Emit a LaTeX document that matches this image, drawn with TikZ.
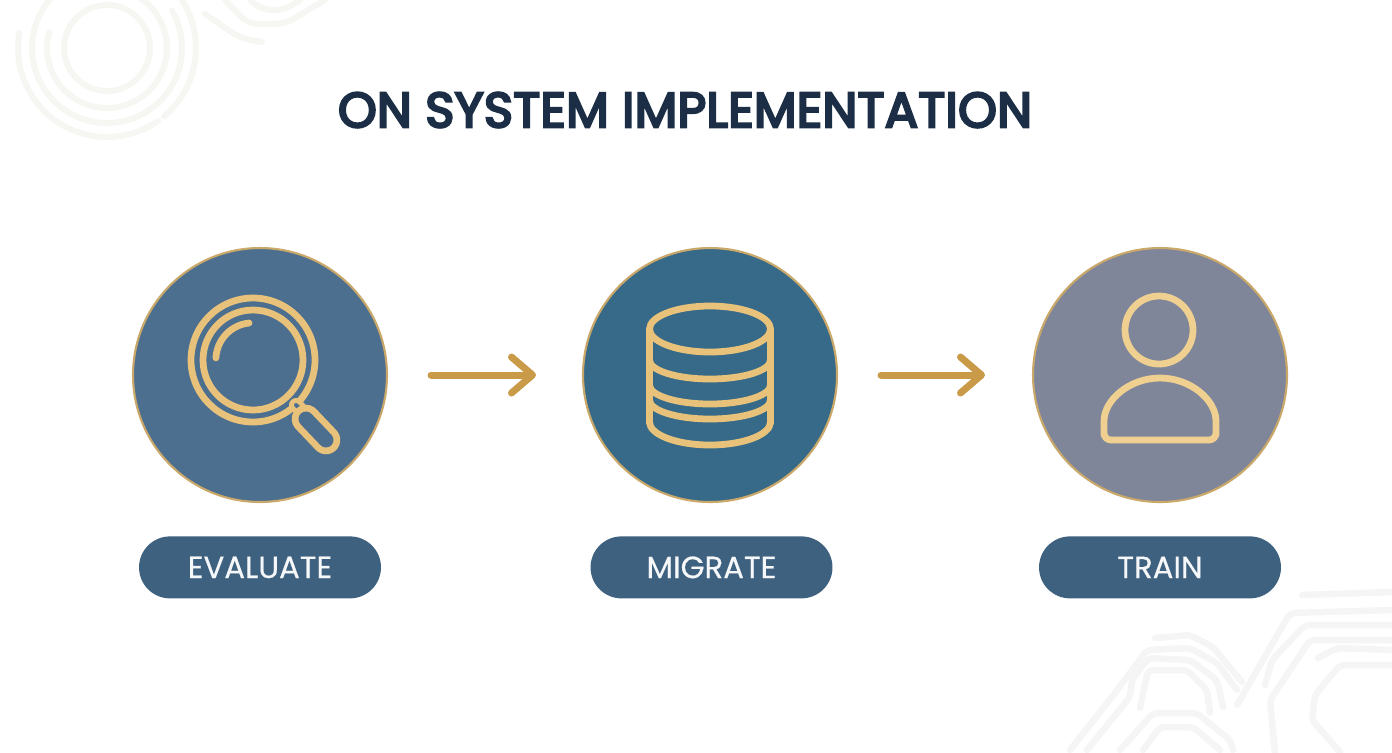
\documentclass[tikz,border=0pt]{standalone}
\usepackage{fontspec}
\setmainfont{Poppins}
\newfontfamily\titlefont[FakeBold=5,LetterSpace=1]{Poppins}
\newfontfamily\pillfont[FakeBold=0.4]{Poppins}
\usetikzlibrary{positioning,arrows.meta}
\definecolor{titleink}{RGB}{27,46,69}
\definecolor{evalblue}{RGB}{77,111,143}
\definecolor{migrateblue}{RGB}{55,106,136}
\definecolor{traingrey}{RGB}{127,134,153}
\definecolor{pillblue}{RGB}{63,97,128}
\definecolor{ringgold}{RGB}{201,168,106}
\definecolor{icongold}{RGB}{232,194,122}
\definecolor{personcream}{RGB}{240,208,145}
\definecolor{arrowgold}{RGB}{201,155,72}
\definecolor{swirlgrey}{RGB}{246,246,242}
\definecolor{circuitgrey}{RGB}{245,245,245}
\tikzset{
  stepdisc/.style={circle,draw=ringgold,line width=1.2pt,minimum size=5.08cm,inner sep=0pt},
  steppill/.style={rectangle,rounded corners=0.62cm,fill=pillblue,text=white!95!pillblue,
    minimum width=4.84cm,minimum height=1.24cm,inner sep=0pt,font=\pillfont\fontsize{17.5}{20}\selectfont},
  stepflow/.style={arrowgold,line width=0.14cm,line cap=round,
    -{Straight Barb[length=0.42cm,width=0.72cm,round]}},
  iconline/.style={icongold,line width=0.135cm,line cap=round,line join=round},
  swirl/.style={swirlgrey,line width=0.12cm,line cap=round},
  circuit/.style={circuitgrey,line width=0.13cm,line cap=round,rounded corners=0.1cm},
}
\begin{document}
\begin{tikzpicture}[x=0.02cm,y=-0.02cm]
\useasboundingbox (0,0) rectangle (1392,752);

% faint corner ornaments
\draw[swirl] (107,48) circle[radius=43];
\draw[swirl] (107,48)+(195:60) arc[start angle=195,end angle=-70,radius=60];
\draw[swirl] (107,48)+(240:75) arc[start angle=240,end angle=-30,radius=75];
\draw[swirl] (107,48)+(190:89) arc[start angle=190,end angle=55,radius=89];
\draw[swirl] (107,48)+(50:89) arc[start angle=50,end angle=-50,radius=89];
\draw[swirl,rounded corners=0.2cm] (205,14)--(240,38)--(262,42);
\draw[swirl,rounded corners=0.2cm] (225,0)--(248,24)--(285,24)--(325,0);
\draw[swirl,rounded corners=0.2cm] (250,0)--(262,10)--(285,10)--(300,0);

\draw[circuit] (1302,595)--(1392,592);
\draw[circuit] (1237,705)--(1290,613)--(1392,610);
\draw[circuit] (1265,685)--(1272,660)--(1305,625)--(1392,625);
\draw[circuit] (1275,752)--(1270,700)--(1310,640)--(1392,640);
\draw[circuit] (1318,658)--(1337,648)--(1392,650);
\draw[circuit] (1392,665)--(1340,665)--(1315,695)--(1312,720)--(1340,752);
\draw[circuit] (1155,638)--(1190,635)--(1213,647)--(1242,682);
\draw[circuit] (1070,750)--(1115,693)--(1147,650)--(1190,648)--(1217,663)--(1237,690);
\draw[circuit] (1087,750)--(1130,697)--(1132,680)--(1148,658)--(1190,660)--(1217,680)--(1223,707);
\draw[circuit] (1140,708)--(1148,670)--(1187,670)--(1207,690)--(1210,713);
\draw[circuit] (1120,750)--(1153,713)--(1197,713)--(1230,740)--(1233,750);
\draw[circuit] (1143,750)--(1160,727)--(1193,727)--(1220,750);

\node[text=titleink,font=\titlefont\fontsize{28}{32}\selectfont] (title) at (685,110) {ON SYSTEM IMPLEMENTATION};

\node[stepdisc,fill=evalblue] (evaluate) at (260,375) {};
\node[stepdisc,fill=migrateblue] (migrate) at (710,375) {};
\node[stepdisc,fill=traingrey] (train) at (1160,375) {};

\node[steppill,below=0.66cm of evaluate] (evaluatelabel) {EVALUATE};
\node[steppill,below=0.66cm of migrate,xshift=0.03cm] (migratelabel) {MIGRATE};
\node[steppill,below=0.66cm of train] (trainlabel) {TRAIN};

\draw[stepflow,shorten <=0.86cm,shorten >=0.92cm] (evaluate) -- (migrate);
\draw[stepflow,shorten <=0.86cm,shorten >=0.94cm] (migrate) -- (train);

% magnifier
\draw[iconline] (253,360) circle[radius=62];
\draw[iconline] (253,360) circle[radius=50];
\draw[iconline] (249,323) arc[start angle=-96,end angle=-177,radius=37];
\draw[iconline,line width=0.1cm,double=evalblue,double distance=0.08cm] (296,405)--(304,413);
\draw[iconline,double=evalblue,double distance=0.3cm] (306,419)--(326,440);

% database
\draw[iconline] (710,329) ellipse[x radius=60.5,y radius=23];
\draw[iconline] (649.5,329)--(649.5,423);
\draw[iconline] (770.5,329)--(770.5,423);
\draw[iconline] (649.5,360) arc[start angle=180,end angle=0,x radius=60.5,y radius=19];
\draw[iconline] (649.5,385) arc[start angle=180,end angle=0,x radius=60.5,y radius=19];
\draw[iconline] (649.5,400) arc[start angle=180,end angle=0,x radius=60.5,y radius=19];
\draw[iconline] (649.5,422) arc[start angle=180,end angle=0,x radius=60.5,y radius=23];

% person
\draw[iconline,personcream] (1159,330) circle[radius=34];
\draw[iconline,personcream,rounded corners=0.14cm] (1104,440)--(1104,428) arc[start angle=180,end angle=360,x radius=56,y radius=50]--(1216,440)--cycle;
\end{tikzpicture}
\end{document}
